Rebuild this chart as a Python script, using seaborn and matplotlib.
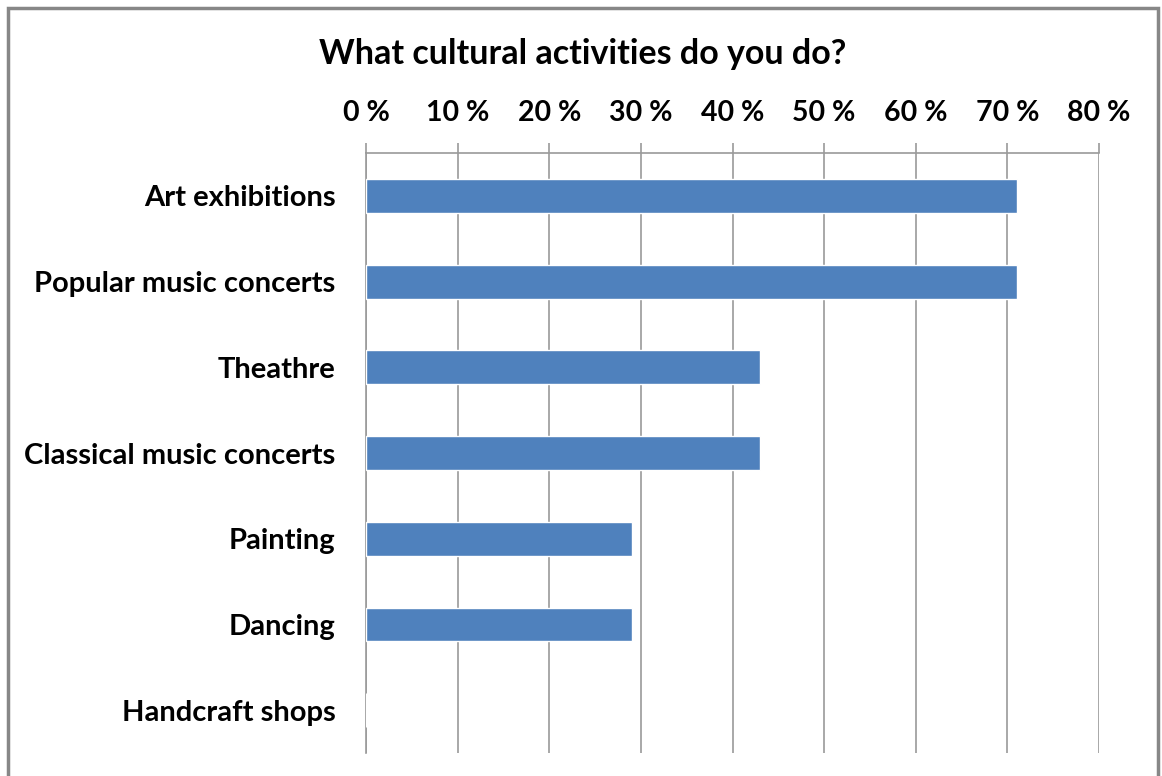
import matplotlib
matplotlib.use("Agg")
import matplotlib.pyplot as plt
import seaborn as sns
import pandas as pd
from matplotlib.patches import Rectangle
from matplotlib.ticker import FuncFormatter

categories = [
    "Art exhibitions",
    "Popular music concerts",
    "Theathre",
    "Classical music concerts",
    "Painting",
    "Dancing",
    "Handcraft shops",
]
shares = [71.0, 71.0, 43.0, 43.0, 29.0, 29.0, 0.0]
x_ticks = [0, 10, 20, 30, 40, 50, 60, 70, 80]
title = "What cultural activities do you do?"

df = pd.DataFrame({"activity": categories, "share": shares})

sns.set_theme(style="white")
plt.rcParams["font.family"] = ["Lato", "DejaVu Sans"]

W, H = 1162, 776
fig = plt.figure(figsize=(W / 100, H / 100), dpi=100)
ax = fig.add_axes([366 / W, 1 - 753 / H, (1099 - 366) / W, (753 - 153) / H])

sns.barplot(data=df, x="share", y="activity", order=categories,
            color="#4f81bd", saturation=1, width=0.395, ax=ax, zorder=3)

ax.set_xlim(0, 80)
ax.set_ylim(len(categories) - 0.5, -0.5)
ax.set_xticks(x_ticks)
ax.xaxis.set_major_formatter(FuncFormatter(lambda v, p: f"{v:.0f} %"))
ax.xaxis.tick_top()
ax.tick_params(axis="x", top=True, bottom=False, length=7.5, width=1.2,
               color="#9a9a9a", pad=12, labelsize=20.5)
ax.tick_params(axis="y", left=False, length=0, pad=22, labelsize=21)
for lbl in ax.get_xticklabels() + ax.get_yticklabels():
    lbl.set_fontweight("bold")
    lbl.set_color("#000000")

ax.grid(axis="x", color="#9a9a9a", linewidth=1.2, zorder=0)
ax.grid(axis="y", visible=False)
for side in ["bottom", "right"]:
    ax.spines[side].set_visible(False)
for side in ["top", "left"]:
    ax.spines[side].set_color("#9a9a9a")
    ax.spines[side].set_linewidth(1.2)
ax.set_xlabel("")
ax.set_ylabel("")

fig.text(583 / W, 1 - 54 / H, title, ha="center", va="center",
         fontsize=24.5, fontweight="bold", color="#000000")

# outer chart border
fig.patches.append(Rectangle((8 / W, -0.05), (1158 - 8) / W, 1.05 - 8 / H,
                             transform=fig.transFigure, fill=False,
                             edgecolor="#878787", linewidth=2.5))

fig.savefig("out.png", dpi=100)
